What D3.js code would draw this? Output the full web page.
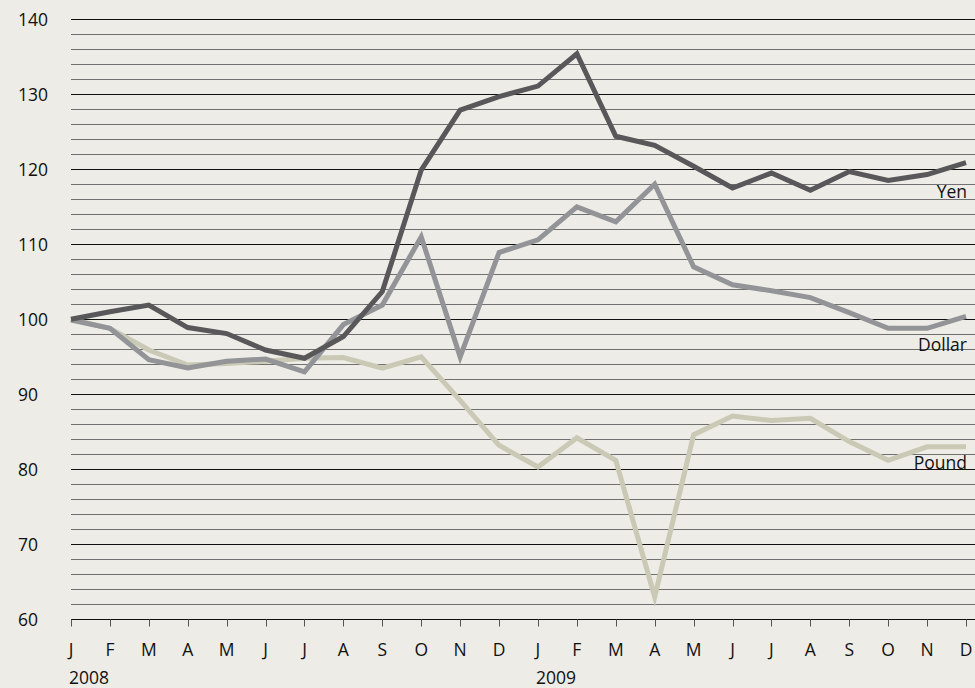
<!DOCTYPE html>
<html><head><meta charset="utf-8">
<script src="https://cdn.jsdelivr.net/npm/d3@7"></script>
<style>
html,body{margin:0;padding:0;background:#edece6;}
svg{display:block;}
text{font-family:"Open Sans","Noto Sans",sans-serif;fill:#111;}
</style></head>
<body><svg id="c" width="975" height="688"></svg>
<script>
const months = ["J","F","M","A","M","J","J","A","S","O","N","D","J","F","M","A","M","J","J","A","S","O","N","D"];
const years = [{label:"2008", index:0},{label:"2009", index:12}];
const yen    = [100,101,101.9,98.9,98.1,95.9,94.8,97.7,103.7,119.9,127.9,129.7,131.1,135.4,124.4,123.2,120.4,117.5,119.5,117.2,119.7,118.5,119.3,120.9];
const dollar = [99.9,98.8,94.6,93.5,94.4,94.7,93.0,99.3,101.9,111.0,95.0,108.9,110.6,115.0,113.0,118.0,107.0,104.6,103.8,102.9,100.9,98.8,98.8,100.4];
const pound  = [100,98.8,95.9,93.9,94.1,94.4,94.8,94.9,93.5,95.0,89.2,83.2,80.3,84.2,81.2,63.0,84.6,87.1,86.5,86.8,83.7,81.2,83.0,83.0];
const yTicks = [60,70,80,90,100,110,120,130,140];
const seriesNames = ["Pound","Dollar","Yen"];
const seriesColors = ["#c9c9b5","#939497","#58585a"];

const svg = d3.select("#c");
const x = d3.scaleLinear().domain([0, months.length-1]).range([71, 966]);
const y = d3.scaleLinear().domain([60,140]).range([619.3, 19.3]);

const grid = d3.range(62, 141, 2);
svg.append("g").selectAll("line").data(grid).join("line")
  .attr("x1", 71).attr("x2", 975)
  .attr("y1", d => Math.round(y(d)) + 0.5).attr("y2", d => Math.round(y(d)) + 0.5)
  .attr("stroke", d => d % 10 === 0 ? "#111" : "#707070")
  .attr("stroke-width", 1);

const axisY = Math.round(y(60)) + 0.5;
svg.append("line").attr("x1",71).attr("x2",975).attr("y1",axisY).attr("y2",axisY).attr("stroke","#111");
svg.append("g").selectAll("line").data(months).join("line")
  .attr("x1",(d,i)=>Math.round(x(i))+0.5).attr("x2",(d,i)=>Math.round(x(i))+0.5)
  .attr("y1",axisY).attr("y2",axisY+7).attr("stroke","#555").attr("stroke-width",1);

svg.append("g").selectAll("text").data(yTicks).join("text")
  .attr("x",18).attr("y",d=>y(d)+6.5).attr("font-size",17.5).text(d=>d);

svg.append("g").selectAll("text").data(months).join("text")
  .attr("x",(d,i)=>x(i)).attr("y",656).attr("text-anchor","middle").attr("font-size",17.5).text(d=>d);
svg.append("g").selectAll("text").data(years).join("text")
  .attr("x",d=>x(d.index)-2).attr("y",684).attr("font-size",17.5).text(d=>d.label);

const line = d3.line().x((d,i)=>x(i)).y(d=>y(d));
const data = [pound, dollar, yen];
svg.append("g").selectAll("path").data(data).join("path")
  .attr("d", line).attr("fill","none")
  .attr("stroke",(d,i)=>seriesColors[i]).attr("stroke-width",5)
  .attr("stroke-linejoin","miter").attr("stroke-miterlimit",10);

const labelY = {Yen:198, Dollar:351, Pound:469};
svg.append("g").selectAll("text").data(seriesNames).join("text")
  .attr("x",967).attr("y",d=>labelY[d]).attr("text-anchor","end").attr("font-size",17.5).text(d=>d);
</script></body></html>
